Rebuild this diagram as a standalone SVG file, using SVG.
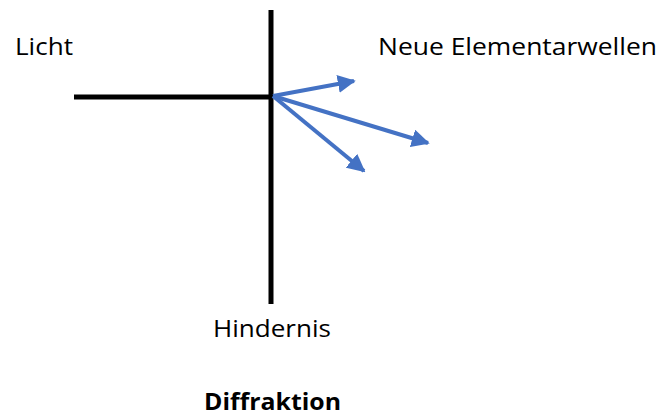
<svg xmlns="http://www.w3.org/2000/svg" width="662" height="417" viewBox="0 0 662 417">
<style>
.t{font-family:"Open Sans","Liberation Sans",sans-serif;font-size:23px;fill:#000}
.b{font-weight:bold}
.w{stroke:#000;stroke-width:5;fill:none}
.a{stroke:#4472C4;stroke-width:4;fill:none}
</style>
<defs>
<marker id="ah" viewBox="0 0 10 10" refX="9" refY="5" markerWidth="4.5" markerHeight="4.5" orient="auto" markerUnits="strokeWidth">
<path d="M0,0 L10,5 L0,10 z" fill="#4472C4"/>
</marker>
</defs>
<g id="obstacle">
<line class="w" x1="271" y1="10" x2="271" y2="304"/>
</g>
<g id="light">
<line class="w" x1="74" y1="97" x2="271" y2="97"/>
</g>
<g id="connectors">
<line class="a" x1="273" y1="96" x2="354" y2="81" marker-end="url(#ah)"/>
<line class="a" x1="273" y1="96" x2="428" y2="143" marker-end="url(#ah)"/>
<line class="a" x1="273" y1="96" x2="364" y2="171" marker-end="url(#ah)"/>
</g>
<g id="labels">
<text class="t" x="15" y="55" textLength="58" lengthAdjust="spacingAndGlyphs">Licht</text>
<text class="t" x="378" y="55" textLength="279" lengthAdjust="spacingAndGlyphs">Neue Elementarwellen</text>
<text class="t" x="213" y="337" textLength="118" lengthAdjust="spacingAndGlyphs">Hindernis</text>
<text class="t b" x="204" y="410" textLength="137" lengthAdjust="spacingAndGlyphs">Diffraktion</text>
</g>
</svg>
